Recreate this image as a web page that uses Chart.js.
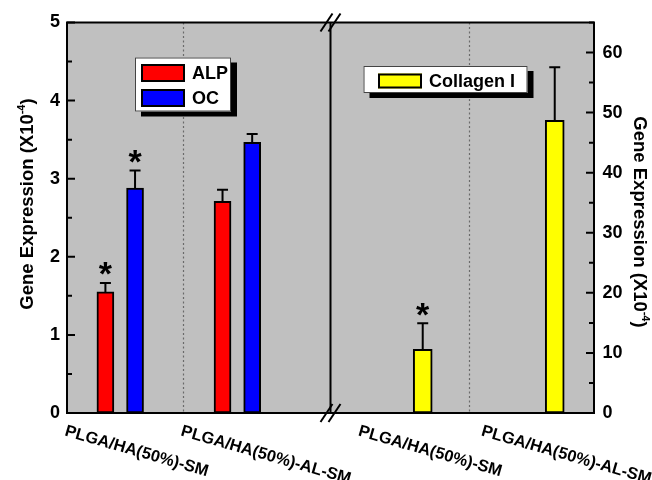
<!DOCTYPE html>
<html>
<head>
<meta charset="utf-8">
<script src="https://cdn.jsdelivr.net/npm/chart.js@4.4.1/dist/chart.umd.min.js"></script>
<style>
  html, body { margin: 0; padding: 0; background: #ffffff; }
  canvas { display: block; }
</style>
</head>
<body>
<canvas id="chart" width="652" height="480"></canvas>
<script>
// ---- data ----
const categories = ['PLGA/HA(50%)-SM', 'PLGA/HA(50%)-AL-SM'];
const alpValues = [1.55, 2.71];
const alpErrors = [0.115, 0.15];
const alpSignificant = [true, false];
const ocValues = [2.88, 3.465];
const ocErrors = [0.225, 0.108];
const ocSignificant = [true, false];
const collagenValues = [10.6, 48.7];
const collagenErrors = [4.35, 8.85];
const collagenSignificant = [true, false];

// ---- layout (x axis runs 0..4, axis break at 2) ----
const leftSlots = [0.404, 1.293];
const rightSlots = [2.7, 3.702];
const pairOffset = 0.1125;
const breakAt = 2;
const separators = [0.88, 3.05];
const labelShift = [-55, -56, -64, -73];

const FONT = '"Liberation Sans", Arial, sans-serif';

function points(slots, values, shift) {
  return values.map((v, i) => ({ x: slots[i] + shift, y: v }));
}

const artist = {
  id: 'figureArt',
  beforeDatasetsDraw(chart) {
    const { ctx, chartArea: a, scales: { x } } = chart;
    ctx.save();
    ctx.fillStyle = '#c0c0c0';
    ctx.fillRect(a.left, a.top, a.right - a.left, a.bottom - a.top);
    ctx.strokeStyle = '#6a6a6a';
    ctx.lineWidth = 1.2;
    ctx.setLineDash([2, 2.5]);
    separators.forEach(v => {
      const px = Math.round(x.getPixelForValue(v)) + 0.5;
      ctx.beginPath();
      ctx.moveTo(px, a.top);
      ctx.lineTo(px, a.bottom);
      ctx.stroke();
    });
    ctx.restore();
  },
  afterDatasetsDraw(chart) {
    const { ctx, chartArea: a, scales } = chart;
    const x = scales.x;
    ctx.save();

    // error bars and significance marks
    ctx.strokeStyle = '#000';
    ctx.lineWidth = 2;
    chart.data.datasets.forEach((ds, di) => {
      const meta = chart.getDatasetMeta(di);
      const ys = scales[ds.yAxisID];
      meta.data.forEach((bar, i) => {
        const top = ys.getPixelForValue(ds.data[i].y + ds.errors[i]);
        ctx.beginPath();
        ctx.moveTo(bar.x, bar.y);
        ctx.lineTo(bar.x, top);
        ctx.moveTo(bar.x - 5.5, top);
        ctx.lineTo(bar.x + 5.5, top);
        ctx.stroke();
        if (ds.marks[i]) {
          ctx.font = 'bold 34px ' + FONT;
          ctx.fillStyle = '#000';
          ctx.textAlign = 'center';
          ctx.textBaseline = 'alphabetic';
          const m = ctx.measureText('*');
          const cy = top - 14;
          ctx.fillText('*', bar.x, cy + (m.actualBoundingBoxAscent - m.actualBoundingBoxDescent) / 2);
        }
      });
    });

    // frame and axis break
    ctx.lineWidth = 2;
    ctx.strokeRect(a.left, a.top, a.right - a.left, a.bottom - a.top);
    const bx = x.getPixelForValue(breakAt);
    ctx.beginPath();
    ctx.moveTo(bx, a.top);
    ctx.lineTo(bx, a.bottom);
    ctx.stroke();
    [a.top, a.bottom].forEach(yy => {
      [-4, 4].forEach(d => {
        ctx.beginPath();
        ctx.moveTo(bx + d - 6, yy + 9);
        ctx.lineTo(bx + d + 6, yy - 9);
        ctx.stroke();
      });
    });

    // inward tick marks, major and minor
    const tickMarks = (scale, edge, dir) => {
      const vals = scale.ticks.map(t => t.value);
      ctx.beginPath();
      vals.forEach((v, i) => {
        const py = scale.getPixelForValue(v);
        ctx.moveTo(edge, py);
        ctx.lineTo(edge + dir * 8, py);
        if (i < vals.length - 1) {
          const pm = scale.getPixelForValue((v + vals[i + 1]) / 2);
          ctx.moveTo(edge, pm);
          ctx.lineTo(edge + dir * 5, pm);
        }
      });
      const step = vals[1] - vals[0];
      const extra = vals[vals.length - 1] + step / 2;
      if (extra <= scale.max) {
        const pm = scale.getPixelForValue(extra);
        ctx.moveTo(edge, pm);
        ctx.lineTo(edge + dir * 5, pm);
      }
      ctx.stroke();
    };
    tickMarks(scales.yL, a.left, 1);
    tickMarks(scales.yR, a.right, -1);

    // legend boxes with drop shadow
    const ds = chart.data.datasets;
    const legendBox = (bx0, by0, w, h, entries) => {
      ctx.fillStyle = '#000';
      ctx.fillRect(bx0 + 6, by0 + 5, w, h);
      ctx.fillStyle = '#fff';
      ctx.fillRect(bx0, by0, w, h);
      ctx.lineWidth = 1;
      ctx.strokeStyle = '#444';
      ctx.strokeRect(bx0 + 0.5, by0 + 0.5, w - 1, h - 1);
      entries.forEach(e => {
        ctx.fillStyle = e.color;
        ctx.fillRect(e.sx, e.sy, e.sw, e.sh);
        ctx.lineWidth = 2;
        ctx.strokeStyle = '#000';
        ctx.strokeRect(e.sx + 1, e.sy + 1, e.sw - 2, e.sh - 2);
        ctx.fillStyle = '#000';
        ctx.font = 'bold 18px ' + FONT;
        ctx.textAlign = 'left';
        ctx.textBaseline = 'middle';
        ctx.fillText(e.text, e.sx + e.sw + 7, e.sy + e.sh / 2 + 1);
      });
    };
    legendBox(135, 57.5, 96, 54, [
      { color: ds[0].backgroundColor, text: ds[0].label, sx: 141, sy: 64, sw: 44, sh: 18 },
      { color: ds[1].backgroundColor, text: ds[1].label, sx: 141, sy: 89, sw: 44, sh: 18 }
    ]);
    legendBox(363.5, 66, 164, 27, [
      { color: ds[2].backgroundColor, text: ds[2].label, sx: 378, sy: 73.5, sw: 44, sh: 15 }
    ]);

    // slanted category labels
    ctx.fillStyle = '#000';
    ctx.font = 'bold 16.5px ' + FONT;
    ctx.textAlign = 'left';
    ctx.textBaseline = 'middle';
    const slots = leftSlots.concat(rightSlots);
    const names = categories.concat(categories);
    slots.forEach((s, i) => {
      ctx.save();
      ctx.translate(x.getPixelForValue(s) + labelShift[i], a.bottom + 18);
      ctx.rotate(16 * Math.PI / 180);
      ctx.fillText(names[i], 0, 0);
      ctx.restore();
    });

    // axis titles with superscript exponent
    const axisTitle = (cx, cy, angle) => {
      ctx.save();
      ctx.translate(cx, cy);
      ctx.rotate(angle);
      const main = 'Gene Expression (X10';
      const sup = '-4';
      const tail = ')';
      ctx.font = 'bold 18.5px ' + FONT;
      const wMain = ctx.measureText(main).width;
      const wTail = ctx.measureText(tail).width;
      ctx.font = 'bold 11px ' + FONT;
      const wSup = ctx.measureText(sup).width;
      let px = -(wMain + wSup + wTail) / 2;
      ctx.textAlign = 'left';
      ctx.textBaseline = 'alphabetic';
      ctx.fillStyle = '#000';
      ctx.font = 'bold 18.5px ' + FONT;
      ctx.fillText(main, px, 6);
      px += wMain;
      ctx.font = 'bold 11px ' + FONT;
      ctx.fillText(sup, px, -2);
      px += wSup;
      ctx.font = 'bold 18.5px ' + FONT;
      ctx.fillText(tail, px, 6);
      ctx.restore();
    };
    axisTitle(27, 204, -Math.PI / 2);
    axisTitle(640, 222, Math.PI / 2);

    ctx.restore();
  }
};

const tickFont = { family: FONT, size: 18, weight: 'bold' };

new Chart(document.getElementById('chart'), {
  type: 'bar',
  data: {
    datasets: [
      {
        label: 'ALP',
        data: points(leftSlots, alpValues, -pairOffset),
        errors: alpErrors,
        marks: alpSignificant,
        backgroundColor: '#ff0000',
        yAxisID: 'yL',
        barThickness: 17
      },
      {
        label: 'OC',
        data: points(leftSlots, ocValues, pairOffset),
        errors: ocErrors,
        marks: ocSignificant,
        backgroundColor: '#0000ff',
        yAxisID: 'yL',
        barThickness: 17
      },
      {
        label: 'Collagen I',
        data: points(rightSlots, collagenValues, 0),
        errors: collagenErrors,
        marks: collagenSignificant,
        backgroundColor: '#ffff00',
        yAxisID: 'yR',
        barThickness: 19
      }
    ]
  },
  options: {
    responsive: false,
    animation: false,
    devicePixelRatio: 1,
    grouped: false,
    borderColor: '#000',
    borderWidth: 2,
    borderSkipped: false,
    layout: { padding: { top: 22.5, bottom: 67, left: 0, right: 0 } },
    plugins: { legend: { display: false }, tooltip: { enabled: false } },
    scales: {
      x: { type: 'linear', min: 0, max: 4, offset: false, display: false },
      yL: {
        position: 'left', min: 0, max: 5,
        grid: { display: false, drawTicks: false },
        border: { display: false },
        ticks: { stepSize: 1, padding: 7, color: '#000', font: tickFont },
        afterFit(s) { s.width = 67; }
      },
      yR: {
        position: 'right', min: 0, max: 65,
        grid: { display: false, drawTicks: false },
        border: { display: false },
        ticks: { stepSize: 10, includeBounds: false, padding: 8.5, color: '#000', font: tickFont },
        afterFit(s) { s.width = 58; }
      }
    }
  },
  plugins: [artist]
});
</script>
</body>
</html>
